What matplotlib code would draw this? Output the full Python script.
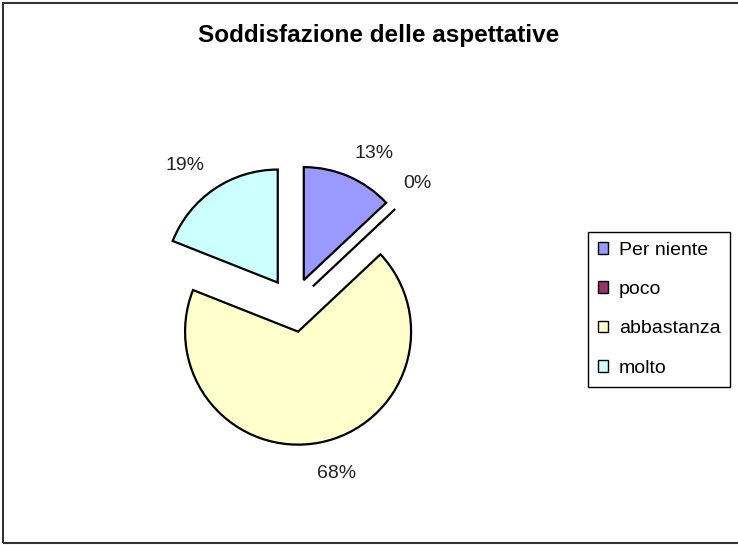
import matplotlib
matplotlib.use('Agg')
import matplotlib.pyplot as plt
import matplotlib.patches as mpatches

# dati
categorie = ['Per niente', 'poco', 'abbastanza', 'molto']
valori = [13, 0, 68, 19]
colori = ['#9999FF', '#993366', '#FFFFCC', '#CCFFFF']
titolo = 'Soddisfazione delle aspettative'

plt.rcParams['font.family'] = ['Liberation Sans', 'DejaVu Sans']

W, H = 738, 545
fig = plt.figure(figsize=(W / 100, H / 100), dpi=100)

# cornice del grafico (bordo destro fuori immagine)
fig.patches.append(mpatches.Rectangle((3 / W, 2 / H), 1.0, (H - 5) / H,
                                      transform=fig.transFigure, fill=False,
                                      edgecolor='#333333', linewidth=1.5))

# assi della torta: centro (293, 305), raggio 113 px
cx, cy, r, lim = 293, H - 305, 113, 1.6
half = r * lim
ax = fig.add_axes([(cx - half) / W, (cy - half) / H, 2 * half / W, 2 * half / H])
wedges, testi, pct = ax.pie(valori, colors=colori, startangle=90, counterclock=False,
                            explode=[0.24] * len(valori), autopct='%1.0f%%',
                            pctdistance=1.3, labeldistance=None,
                            wedgeprops=dict(edgecolor='black', linewidth=1.6))
# piccoli spostamenti delle etichette (in px) come in Excel
spost = [(12, -8), (-2, 2), (11, 2), (-10, -4)]
for t, (dx, dy) in zip(pct, spost):
    t.set_fontsize(14)
    t.set_color('#222222')
    x, y = t.get_position()
    t.set_position((x + dx / r, y + dy / r))
ax.set_xlim(-lim, lim)
ax.set_ylim(-lim, lim)
ax.axis('off')

fig.text(379 / W, 1 - 35 / H, titolo, ha='center', va='center',
         fontsize=17.5, fontweight='bold')

handles = [mpatches.Patch(facecolor=c, edgecolor='black', linewidth=1.0, label=l)
           for c, l in zip(colori, categorie)]
leg = fig.legend(handles=handles, loc='upper left',
                 bbox_to_anchor=(588 / W, 1 - 232 / H), borderaxespad=0,
                 fontsize=14, frameon=True, fancybox=False, framealpha=1,
                 edgecolor='black', handlelength=0.55, handleheight=0.55,
                 handletextpad=0.55, labelspacing=1.15, borderpad=0.5)
leg.get_frame().set_linewidth(1.0)

fig.savefig('out.png', dpi=100)
